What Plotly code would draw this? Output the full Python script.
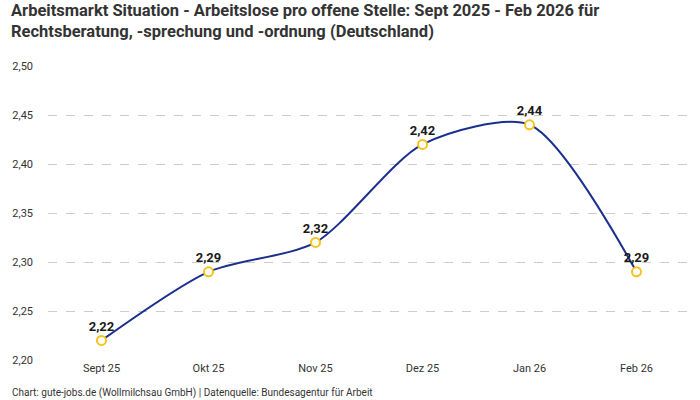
import plotly.graph_objects as go

# data
months = ["Sept 25", "Okt 25", "Nov 25", "Dez 25", "Jan 26", "Feb 26"]
ratio = [2.22, 2.29, 2.32, 2.42, 2.44, 2.29]
labels = [f"{v:.2f}".replace(".", ",") for v in ratio]

title_text = (
    "<b>Arbeitsmarkt Situation - Arbeitslose pro offene Stelle: Sept 2025 - Feb 2026 für<br>"
    "Rechtsberatung, -sprechung und -ordnung (Deutschland)</b>"
)
source_text = "Chart: gute-jobs.de (Wollmilchsau GmbH) | Datenquelle: Bundesagentur für Arbeit"

font_family = "Roboto, Noto Sans, sans-serif"

# plot area in pixels: 48..690 x 66..360
plot_w, plot_h = 642, 294

fig = go.Figure()

fig.add_trace(
    go.Scatter(
        x=months,
        y=ratio,
        mode="lines+markers+text",
        text=labels,
        texttemplate="<b>%{text}</b>",
        textposition="top center",
        textfont=dict(size=13, color="#1a1a1a"),
        line=dict(color="#1b2f8f", width=2, shape="spline", smoothing=0.75),
        marker=dict(
            symbol="circle",
            size=9,
            color="white",
            line=dict(color="#f7c21b", width=2),
        ),
        showlegend=False,
        hoverinfo="x+y",
    )
)

fig.update_layout(
    width=700,
    height=400,
    template="plotly_white",
    font=dict(family=font_family, color="#333333"),
    separators=",.",
    margin=dict(l=48, r=10, t=66, b=40),
    xaxis=dict(
        range=[-0.5, 5.5],
        showgrid=False,
        showline=False,
        zeroline=False,
        ticks="",
        tickfont=dict(size=11, color="#333333"),
    ),
    yaxis=dict(
        range=[2.20, 2.50],
        dtick=0.05,
        tickformat=".2f",
        showgrid=True,
        gridcolor="#cccccc",
        griddash="dash",
        zeroline=False,
        showline=False,
        tickfont=dict(size=11, color="#333333"),
        ticklabelstandoff=14,
    ),
    annotations=[
        dict(
            text=title_text,
            x=-39 / plot_w,
            y=(360 + 1) / plot_h,
            xref="paper",
            yref="paper",
            xanchor="left",
            yanchor="top",
            align="left",
            showarrow=False,
            font=dict(size=16.5, color="#333333"),
        ),
        dict(
            text=source_text,
            x=-38 / plot_w,
            y=-33 / plot_h,
            xref="paper",
            yref="paper",
            xanchor="left",
            yanchor="middle",
            showarrow=False,
            font=dict(size=10, color="#333333"),
        ),
    ],
    plot_bgcolor="white",
    paper_bgcolor="white",
)

fig.write_html(
    "out.html",
    config={"displayModeBar": False},
    post_script="document.body.style.margin='0';document.body.style.overflow='hidden';",
)
